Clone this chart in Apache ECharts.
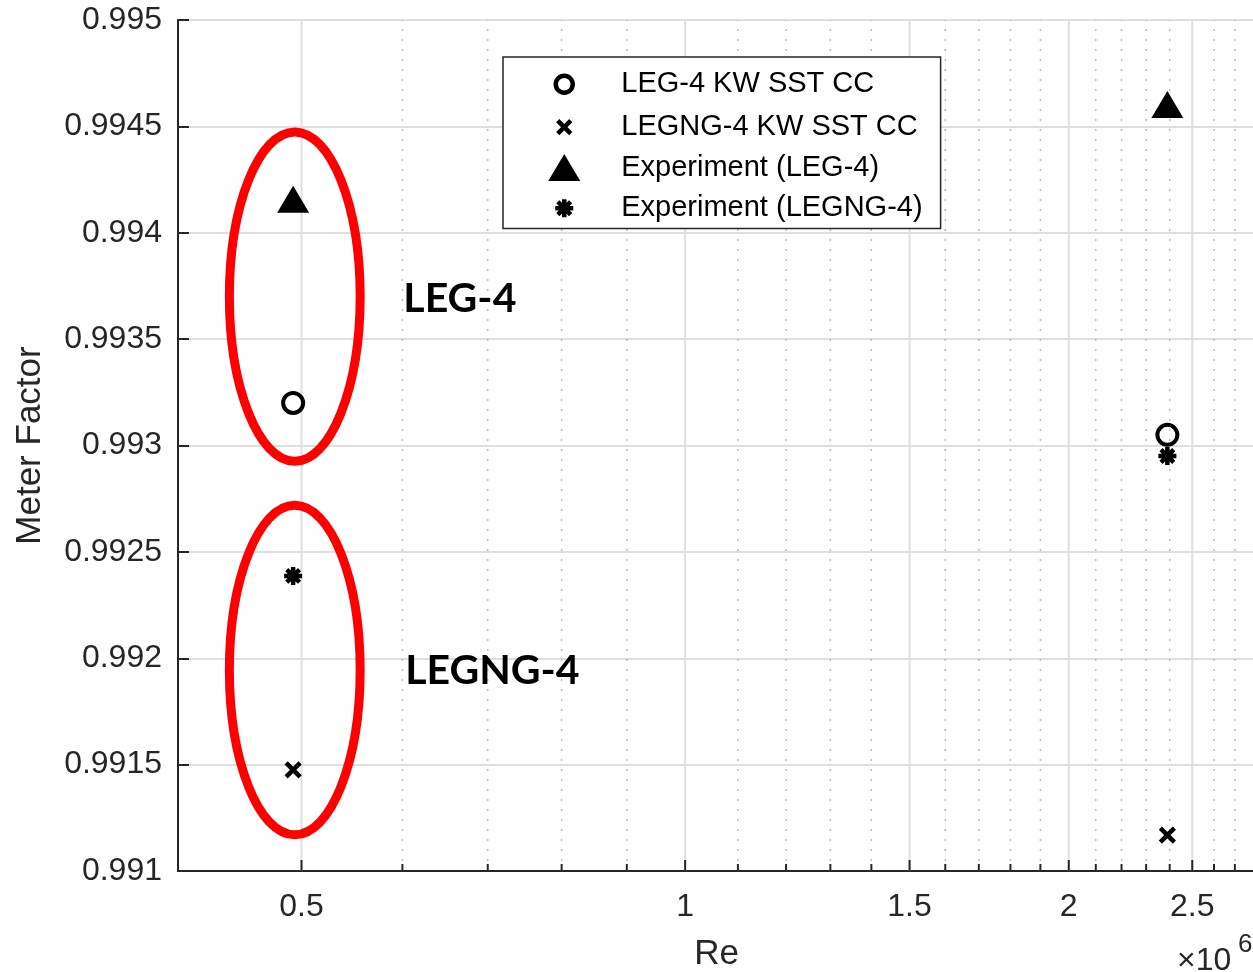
<!DOCTYPE html>
<html>
<head>
<meta charset="utf-8">
<script src="https://cdn.jsdelivr.net/npm/echarts@6/dist/echarts.min.js"></script>
<style>
html,body{margin:0;padding:0;background:#fff;}
#chart{width:1253px;height:972px;}
</style>
</head>
<body>
<div id="chart"></div>
<script>
// ---------------- data ----------------
const seriesNames = ['LEG-4 KW SST CC', 'LEGNG-4 KW SST CC', 'Experiment (LEG-4)', 'Experiment (LEGNG-4)'];
const reValues = [0.4925e6, 2.39e6];
const legKwSstCc = [0.99320, 0.99305];
const legngKwSstCc = [0.991475, 0.991169];
const expLeg = [0.994157, 0.994603];
const expLegng = [0.992387, 0.992951];

const xRange = [4e5, 2.8e6];
const xMajorTicks = [5e5, 1e6, 1.5e6, 2e6, 2.5e6];
const xMajorTickLabels = ['0.5', '1', '1.5', '2', '2.5'];
const xMinorTicks = [6e5, 7e5, 8e5, 9e5, 1.1e6, 1.2e6, 1.3e6, 1.4e6, 1.6e6, 1.7e6, 1.8e6, 1.9e6,
                     2.1e6, 2.2e6, 2.3e6, 2.4e6, 2.6e6, 2.7e6];
const yRange = [0.991, 0.995];
const yStep = 0.0005;

// annotations (data coordinates)
const groupLabels = ['LEG-4', 'LEGNG-4'];
const groupLabelAnchors = [[0.601e6, 0.99369], [0.603e6, 0.99194]];
const ellipseReBounds = [[0.4389e6, 0.5559e6], [0.4389e6, 0.5559e6]];
const ellipseMfBounds = [[0.992926, 0.994474], [0.991170, 0.992719]];

// ---------------- styles ----------------
const FONT = '"Liberation Sans", Arial, Helvetica, sans-serif';
const AXIS_COLOR = '#262626';
const CORNER = 'M0 0M36 36';
const legendIcons = [
  'path://' + CORNER + 'M9.5 18A8.5 8.5 0 1 1 26.5 18A8.5 8.5 0 1 1 9.5 18Z',
  'path://' + CORNER + 'M11.5 11.5L24.5 24.5M24.5 11.5L11.5 24.5',
  'path://' + CORNER + 'M18 4.5L34 31.5L2 31.5Z',
  'path://' + CORNER + 'M18 9L18 27M9 18L27 18M11.6 11.6L24.4 24.4M24.4 11.6L11.6 24.4'
];
const hollow = {color: 'rgba(0,0,0,0)', borderColor: '#000', borderWidth: 4.5, opacity: 1};
const solid = {color: '#000', borderColor: '#000', borderWidth: 0, opacity: 1};
const legendStyles = [hollow, hollow, solid, hollow];

function tickSeries(values, isMajor) {
  return {
    type: 'custom', silent: true, clip: false, z: 1,
    data: values.map(v => [v, yRange[0]]),
    renderItem(params, api) {
      const v = api.value(0);
      const p0 = api.coord([v, yRange[0]]);
      const p1 = api.coord([v, yRange[1]]);
      const children = [
        {type: 'line', shape: {x1: p0[0], y1: p0[1], x2: p1[0], y2: p1[1]},
         style: isMajor ? {stroke: '#dfdfdf', lineWidth: 2}
                        : {stroke: '#bdbdbd', lineWidth: 1.5, lineDash: [2, 8]}},
        {type: 'line', shape: {x1: p0[0], y1: p0[1], x2: p0[0], y2: p0[1] - (isMajor ? 11 : 7)},
         style: {stroke: AXIS_COLOR, lineWidth: 2}}
      ];
      if (isMajor) {
        children.push({type: 'text', style: {
          text: xMajorTickLabels[params.dataIndex], x: p0[0], y: p0[1] + 36,
          align: 'center', verticalAlign: 'middle',
          fontSize: 32, fontFamily: FONT, fill: AXIS_COLOR}});
      }
      return {type: 'group', children};
    }
  };
}

const chart = echarts.init(document.getElementById('chart'), null, {renderer: 'canvas'});

const option = {
  animation: false,
  backgroundColor: '#fff',
  grid: {left: 178, top: 20, right: -2, bottom: 101, containLabel: false, outerBoundsMode: 'none'},
  xAxis: {
    type: 'log', logBase: 10, min: xRange[0], max: xRange[1],
    name: 'Re', nameLocation: 'middle', nameGap: 66,
    nameTextStyle: {fontSize: 35, fontFamily: FONT, color: AXIS_COLOR},
    axisLine: {show: true, onZero: false, lineStyle: {color: AXIS_COLOR, width: 2}},
    axisTick: {show: false}, axisLabel: {show: false},
    splitLine: {show: false}, minorTick: {show: false}, minorSplitLine: {show: false}
  },
  yAxis: {
    type: 'value', min: yRange[0], max: yRange[1], interval: yStep,
    name: 'Meter Factor', nameLocation: 'middle', nameGap: 130,
    nameTextStyle: {fontSize: 35, fontFamily: FONT, color: AXIS_COLOR},
    axisLine: {show: true, onZero: false, lineStyle: {color: AXIS_COLOR, width: 2}},
    axisTick: {show: true, inside: true, length: 11, lineStyle: {color: AXIS_COLOR, width: 2}},
    axisLabel: {fontSize: 32, fontFamily: FONT, color: AXIS_COLOR, margin: 16,
                formatter: v => String(parseFloat(Number(v).toFixed(4)))},
    splitLine: {show: true, lineStyle: {color: '#dfdfdf', width: 2}}
  },
  legend: {
    orient: 'vertical', left: 503, top: 57,
    itemWidth: 36, itemHeight: 36, itemGap: 2.3,
    padding: [7, 18, 0, 41],
    borderColor: AXIS_COLOR, borderWidth: 1.5, backgroundColor: '#fff',
    selectedMode: false, symbolKeepAspect: true,
    formatter: name => '{s|}' + name,
    textStyle: {fontSize: 29, fontFamily: FONT, color: '#000', lineHeight: 36,
                rich: {s: {width: 34}}},
    data: seriesNames.map((n, i) => ({name: n, icon: legendIcons[i], itemStyle: legendStyles[i]}))
  },
  graphic: [
    {type: 'text', left: 1177, top: 945, silent: true,
     style: {text: '×10', fontSize: 32, fontFamily: FONT, fill: AXIS_COLOR}},
    {type: 'text', left: 1238, top: 932, silent: true,
     style: {text: '6', fontSize: 26, fontFamily: FONT, fill: AXIS_COLOR}}
  ],
  series: [
    tickSeries(xMinorTicks, false),
    tickSeries(xMajorTicks, true),
    {
      type: 'custom', silent: true, clip: false, z: 3,
      data: ellipseReBounds.map((b, i) => [b[0], ellipseMfBounds[i][0]]),
      renderItem(params, api) {
        const i = params.dataIndex;
        const a = api.coord([ellipseReBounds[i][0], ellipseMfBounds[i][0]]);
        const b = api.coord([ellipseReBounds[i][1], ellipseMfBounds[i][1]]);
        return {type: 'ellipse',
          shape: {cx: (a[0] + b[0]) / 2, cy: (a[1] + b[1]) / 2,
                  rx: Math.abs(b[0] - a[0]) / 2, ry: Math.abs(b[1] - a[1]) / 2},
          style: {fill: null, stroke: '#ff0000', lineWidth: 9}};
      }
    },
    {
      type: 'custom', silent: true, clip: false, z: 3,
      data: groupLabelAnchors,
      renderItem(params, api) {
        const p = api.coord([api.value(0), api.value(1)]);
        return {type: 'text', style: {text: groupLabels[params.dataIndex], x: p[0], y: p[1],
          align: 'left', verticalAlign: 'middle', fontSize: 41, fontWeight: 'bold',
          fontFamily: 'Lato, "Open Sans", sans-serif', fill: '#000'}};
      }
    },
    {name: seriesNames[0], type: 'scatter', z: 5, silent: true, emphasis: {disabled: true},
     symbol: 'circle', symbolSize: 20, itemStyle: {color: 'rgba(0,0,0,0)', borderColor: '#000', borderWidth: 4, opacity: 1},
     data: reValues.map((x, i) => [x, legKwSstCc[i]])},
    {name: seriesNames[1], type: 'scatter', z: 5, silent: true, emphasis: {disabled: true},
     symbol: 'path://M0 0L10 10M10 0L0 10', symbolSize: 14, itemStyle: hollow,
     data: reValues.map((x, i) => [x, legngKwSstCc[i]])},
    {name: seriesNames[2], type: 'scatter', z: 5, silent: true, emphasis: {disabled: true},
     symbol: 'triangle', symbolSize: [32, 27], itemStyle: solid,
     data: reValues.map((x, i) => [x, expLeg[i]])},
    {name: seriesNames[3], type: 'scatter', z: 5, silent: true, emphasis: {disabled: true},
     symbol: 'path://M10 0L10 20M0 10L20 10M2.93 2.93L17.07 17.07M17.07 2.93L2.93 17.07',
     symbolSize: 18, itemStyle: hollow,
     data: reValues.map((x, i) => [x, expLegng[i]])}
  ]
};
chart.setOption(option);
</script>
</body>
</html>
